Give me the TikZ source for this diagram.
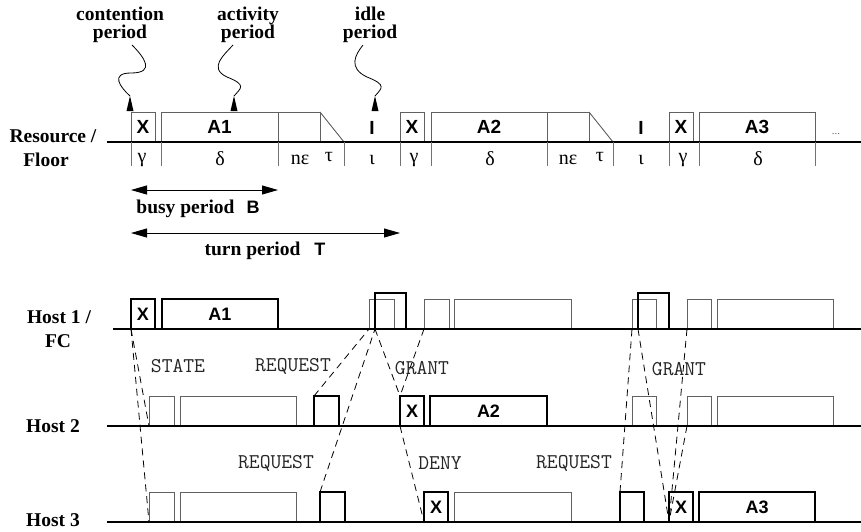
\documentclass[tikz,border=0pt]{standalone}
\usepackage{fontspec}
\setmainfont{Liberation Serif}
\newfontfamily\hvf{Liberation Sans}
\usetikzlibrary{arrows.meta}
\begin{document}
\begin{tikzpicture}[x=1pt,y=-1pt,
  thinbox/.style={draw=black!62, line width=0.9pt, inner sep=0pt, outer sep=0pt, anchor=south west,
    minimum height=30pt, font=\hvf\bfseries\fontsize{18}{18}\selectfont},
  thickbox/.style={thinbox, draw=black, line width=1.8pt},
  tallbox/.style={thickbox, minimum height=36pt},
  resbox/.style={thinbox, font=\hvf\bfseries\fontsize{19}{19}\selectfont},
  baseln/.style={line width=1.8pt, black},
  tickln/.style={line width=0.8pt, black!55},
  thinln/.style={line width=0.9pt, black!62},
  dashln/.style={line width=0.8pt, black, dash pattern=on 7pt off 5pt},
  lbl/.style={font=\bfseries\fontsize{19.5}{18}\selectfont, align=center, inner sep=0pt},
  sanslbl/.style={font=\hvf\bfseries\fontsize{19}{19}\selectfont, inner sep=0pt},
  grk/.style={font=\fontsize{20}{20}\selectfont, inner sep=0pt},
  msg/.style={font=\ttfamily\fontsize{21}{21}\selectfont, text=black!85, inner sep=0pt},
  callout/.style={line width=0.8pt, black},
  dblarrow/.style={line width=0.9pt, {Triangle[length=16pt,width=9pt]}-{Triangle[length=16pt,width=9pt]}}
]
\useasboundingbox (0,0) rectangle (861,531);

% ---------- callout labels ----------
\node[lbl] (lcont) at (120,25) {contention\\period};
\node[lbl] (lact) at (248,25) {activity\\period};
\node[lbl] (lidle) at (370,25) {idle\\period};

\coordinate (tcont) at (130,96);
\coordinate (tact) at (234,96);
\coordinate (tidle) at (375,96);
\coordinate (scont) at (132,45);
\coordinate (sact) at (233,45);
\coordinate (sidle) at (363,45);

\draw[callout] (scont) .. controls (144,57) and (156,73) .. (131,73) .. controls (110,73) and (120,87) .. (tcont);
\draw[callout] (sact) .. controls (224,55) and (208,68) .. (227,77) .. controls (247,85) and (241,88) .. (tact);
\draw[callout] (sidle) .. controls (355,55) and (348,68) .. (367,77) .. controls (387,85) and (382,88) .. (tidle);
\fill (tcont) -- ++(-3.5,15) -- ++(7,0) -- cycle;
\fill (tact) -- ++(-3.5,15) -- ++(7,0) -- cycle;
\fill (tidle) -- ++(-3.5,15) -- ++(7,0) -- cycle;

% ---------- resource / floor row ----------
\node[lbl] (lres) at (53,136) {Resource /};
\node[lbl] (lflo) at (46,160) {Floor};

\node[resbox, minimum width=24pt] (rx1) at (131,142) {X};
\node[resbox, minimum width=117pt] (ra1) at (161,142) {A1};
\node[resbox, minimum width=42pt] (rn1) at (278,142) {};
\coordinate (rt1) at (344,142);
\draw[thinln] (rn1.north east) -- (rt1);
\node[sanslbl] (ri1) at (372,128) {I};
\node[resbox, minimum width=24pt] (rx2) at (400,142) {X};
\node[resbox, minimum width=116pt] (ra2) at (431,142) {A2};
\node[resbox, minimum width=42pt] (rn2) at (547,142) {};
\coordinate (rt2) at (613,142);
\draw[thinln] (rn2.north east) -- (rt2);
\node[sanslbl] (ri2) at (641,128) {I};
\node[resbox, minimum width=24pt] (rx3) at (669,142) {X};
\node[resbox, minimum width=116pt] (ra3) at (699,142) {A3};
\node[font=\fontsize{11}{11}\selectfont, text=black!60, inner sep=0pt] (rdots) at (836,134) {...};

\draw[baseln] (107,142) -- (861,142);
\foreach \x in {131,161,278,344,400,431,547,613,669,699,815}
  \draw[tickln] (\x,142) -- (\x,166);

\node[grk] (g1) at (142,160) {γ};
\node[grk] (g2) at (220,159) {δ};
\node[grk] (g3) at (300,160) {nε};
\node[grk] (g4) at (329,157) {τ};
\node[grk] (g5) at (372,160) {ι};
\node[grk] (g6) at (414,160) {γ};
\node[grk] (g7) at (490,159) {δ};
\node[grk] (g8) at (568,160) {nε};
\node[grk] (g9) at (600,157) {τ};
\node[grk] (g10) at (641,160) {ι};
\node[grk] (g11) at (683,160) {γ};
\node[grk] (g12) at (758,159) {δ};

% ---------- period arrows ----------
\coordinate (bL) at (131,190);
\coordinate (bR) at (278,190);
\coordinate (tL) at (131,233);
\coordinate (tR) at (400,233);
\draw[dblarrow] (bL) -- (bR);
\draw[dblarrow] (tL) -- (tR);
\node[lbl] (lbusy) at (198,209) {busy period\hspace{12pt}{\hvf\bfseries\fontsize{18}{18}\selectfont B}};
\node[lbl] (lturn) at (265,251) {turn period\hspace{14pt}{\hvf\bfseries\fontsize{18}{18}\selectfont T}};

% ---------- host labels ----------
\node[lbl] (lh1) at (59,317) {Host 1 /};
\node[lbl] (lfc) at (58,341) {FC};
\node[lbl] (lh2) at (53,426) {Host 2};
\node[lbl] (lh3) at (53,520) {Host 3};

% ---------- host 1 ----------
\node[thinbox, minimum width=25pt] (h1b) at (369,329) {};
\node[thinbox, minimum width=25pt] (h1d) at (424,329) {};
\node[thinbox, minimum width=117pt] (h1e) at (454,329) {};
\node[thinbox, minimum width=24pt] (h1f) at (632,329) {};
\node[thinbox, minimum width=24pt] (h1h) at (687,329) {};
\node[thinbox, minimum width=116pt] (h1i) at (717,329) {};
\node[thickbox, minimum width=24pt] (h1x) at (131,329) {X};
\node[thickbox, minimum width=116pt] (h1a) at (162,329) {A1};
\node[tallbox, minimum width=31pt] (h1c) at (375,329) {};
\node[tallbox, minimum width=31pt] (h1g) at (638,329) {};
\draw[baseln] (113,329) -- (861,329);

% ---------- host 2 ----------
\node[thinbox, minimum width=25pt] (h2a) at (149,426) {};
\node[thinbox, minimum width=116pt] (h2b) at (180,426) {};
\node[thinbox, minimum width=24pt] (h2c) at (632,426) {};
\node[thinbox, minimum width=24pt] (h2d) at (687,426) {};
\node[thinbox, minimum width=116pt] (h2e) at (717,426) {};
\node[thickbox, minimum width=25pt] (h2r) at (314,426) {};
\node[thickbox, minimum width=24pt] (h2x) at (400,426) {X};
\node[thickbox, minimum width=117pt] (h2a2) at (430,426) {A2};
\draw[baseln] (107,426) -- (861,426);

% ---------- host 3 ----------
\node[thinbox, minimum width=25pt] (h3a) at (149,522) {};
\node[thinbox, minimum width=116pt] (h3b) at (180,522) {};
\node[thinbox, minimum width=117pt] (h3c) at (454,522) {};
\node[thickbox, minimum width=25pt] (h3r) at (320,522) {};
\node[thickbox, minimum width=24pt] (h3x) at (424,522) {X};
\node[thickbox, minimum width=24pt] (h3r2) at (620,522) {};
\node[thickbox, minimum width=24pt] (h3x2) at (669,522) {X};
\node[thickbox, minimum width=116pt] (h3a3) at (699,522) {A3};
\draw[baseln] (107,522) -- (861,522);

% ---------- messages ----------
\draw[dashln] (h1x.south west) -- (h2a.south west);
\draw[dashln] (h1x.south west) -- (h3a.south west);
\draw[dashln] (h2r.north west) -- (h1b.south west);
\draw[dashln] (h3r.north west) -- (h1c.south west);
\draw[dashln] (h1c.south west) -- (h2x.north west);
\draw[dashln] (h1d.south west) -- (h2x.north west);
\draw[dashln] (h2x.south west) -- (h3x.south west);
\draw[dashln] (h3r2.north west) -- (h1f.south west);
\draw[dashln] (h1g.south west) -- (h3x2.south west);
\draw[dashln] (h1h.south west) -- (h3x2.south west);
\draw[dashln] (h2d.south west) -- (h3x2.south west);

\node[msg] (mstate) at (178,366) {STATE};
\node[msg] (mreq1) at (293,366) {REQUEST};
\node[msg] (mgr1) at (422,368) {GRANT};
\node[msg] (mreq2) at (276,463) {REQUEST};
\node[msg] (mdeny) at (440,463) {DENY};
\node[msg] (mreq3) at (574,463) {REQUEST};
\node[msg] (mgr2) at (679,369) {GRANT};
\end{tikzpicture}
\end{document}
